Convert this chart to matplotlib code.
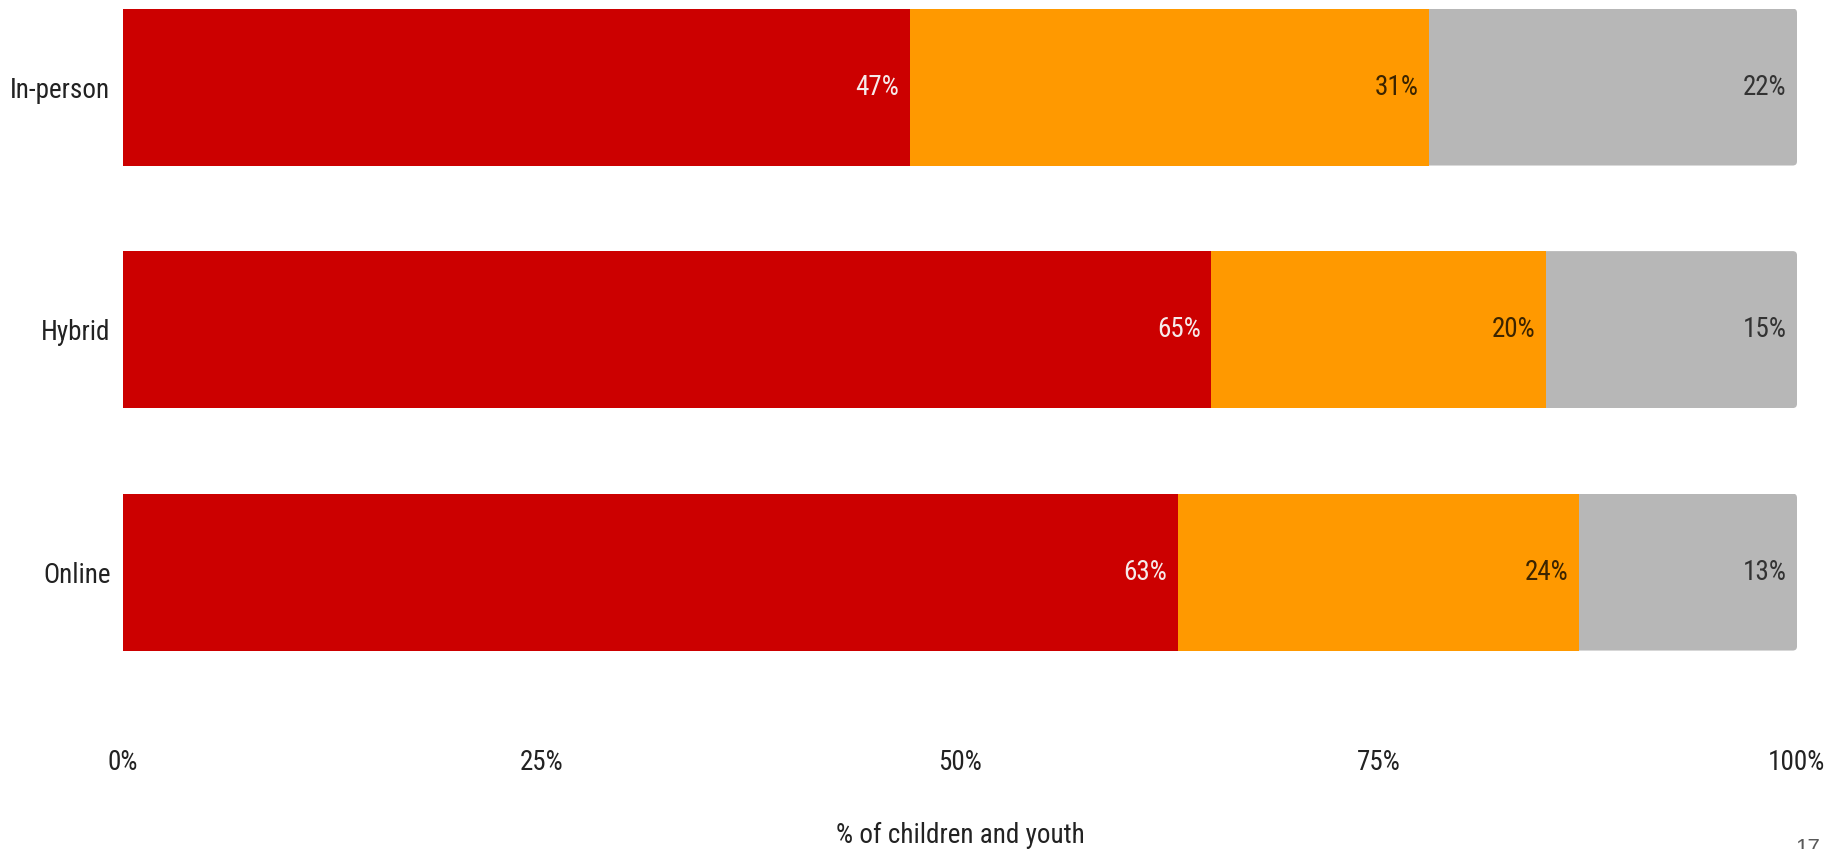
import numpy as np
import matplotlib
matplotlib.use('Agg')
import matplotlib.pyplot as plt
from matplotlib.patches import FancyBboxPatch

plt.rcParams['font.family'] = ['Roboto Condensed', 'DejaVu Sans']

# data
modes = ['In-person', 'Hybrid', 'Online']
not_at_all = [47, 65, 63]
somewhat = [31, 20, 24]
very = [22, 15, 13]
ticks = [0, 25, 50, 75, 100]
tick_labels = ['0%', '25%', '50%', '75%', '100%']

series = [not_at_all, somewhat, very]
colors = ['#cc0000', '#ff9900', '#b7b7b7']
text_colors = ['#f6eaea', '#3b2400', '#333333']

W, H = 1840, 849
fig = plt.figure(figsize=(W / 100, H / 100), dpi=100)
ax = fig.add_axes([123 / W, (H - 745) / H, (1797 - 123) / W, 745 / H])

ax.set_xlim(0, 100)
ax.set_ylim(2.713, -0.359)

bar_h = 0.647
y = np.arange(len(modes))
left = np.zeros(len(modes))
for i, (vals, col, tcol) in enumerate(zip(series, colors, text_colors)):
    vals = np.array(vals)
    bars = ax.barh(y, vals, left=left, height=bar_h, color=col, edgecolor='none')
    if i == len(series) - 1:
        # round only the outer (right) corners of the last segment
        px_x = (1797 - 123) / 100
        px_y = 242.5
        for b, l, v, yi in zip(bars, left, vals, y):
            clip = FancyBboxPatch((l - 10, yi - bar_h / 2), v + 10, bar_h,
                                  boxstyle='round,pad=0,rounding_size=0.25',
                                  mutation_aspect=px_x / px_y,
                                  transform=ax.transData, facecolor='none',
                                  edgecolor='none')
            b.set_clip_path(clip)
    for yi, l, v in zip(y, left, vals):
        ax.annotate(f'{v}%', xy=(l + v, yi), xytext=(-7.5, 0),
                    textcoords='offset points', ha='right', va='center',
                    fontsize=19.5, color=tcol)
    left += vals

ax.set_yticks(y)
ax.set_yticklabels(modes)
ax.set_xticks(ticks)
ax.set_xticklabels(tick_labels)
ax.tick_params(axis='y', length=0, pad=9, labelsize=19.5, labelcolor='#222222')
ax.tick_params(axis='x', length=0, pad=3, labelsize=19.5, labelcolor='#222222')
for s in ax.spines.values():
    s.set_visible(False)

fig.text(960 / W, (H - 843) / H, '% of children and youth', ha='center',
         va='baseline', fontsize=19.5, color='#222222')
fig.text(1808 / W, (H - 838) / H, '17', ha='center', va='top',
         fontsize=16, color='#595959', family=['Liberation Sans', 'DejaVu Sans'])

fig.savefig('out.png', dpi=100, facecolor='white')
